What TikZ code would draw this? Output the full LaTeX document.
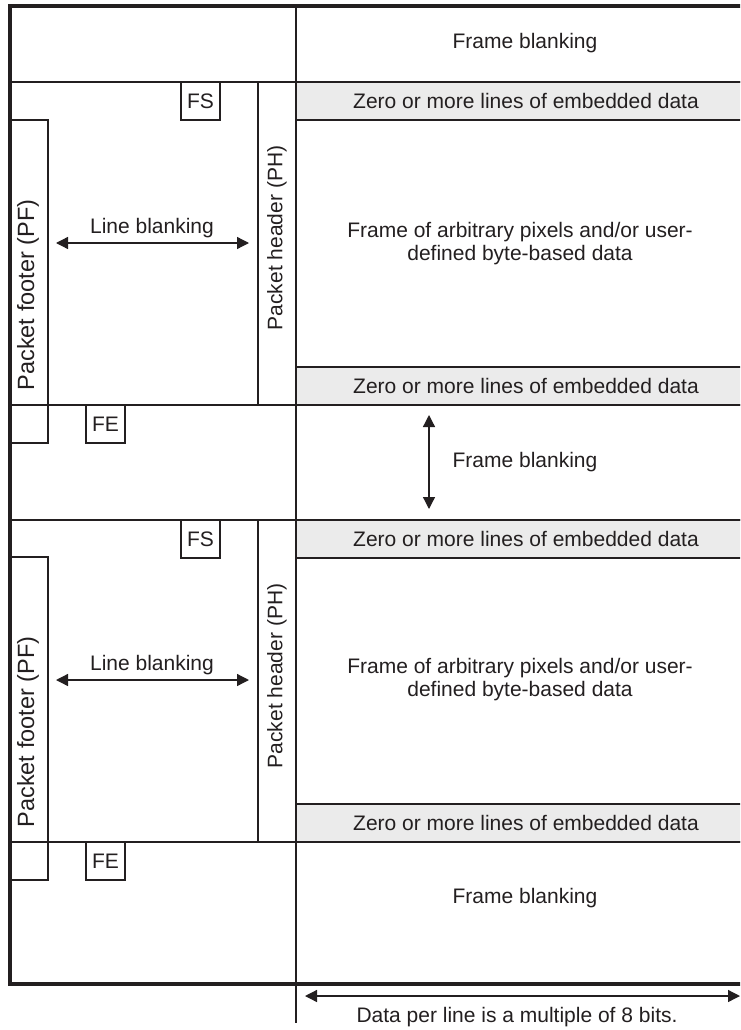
\documentclass[tikz,border=0pt]{standalone}
\usepackage{fontspec}
\setmainfont{Liberation Sans}
\usetikzlibrary{arrows.meta}
\definecolor{ink}{HTML}{231F20}
\definecolor{bandgray}{HTML}{EBEBEB}
\begin{document}
\begin{tikzpicture}[x=1pt,y=-1pt,
  lbl/.style={font=\fontsize{21}{23}\selectfont, text=ink},
  pflbl/.style={font=\fontsize{23.5}{26}\selectfont, text=ink},
  cell/.style={draw=ink, line width=1.3pt, inner sep=0pt, outer sep=0pt, anchor=north west},
  band/.style={cell, fill=bandgray, minimum width=460pt, minimum height=38pt, lbl},
  tag/.style={cell, minimum width=39pt, minimum height=38pt, text=ink, font=\fontsize{21}{24}\selectfont},
  col/.style={cell, minimum width=38pt},
  frameline/.style={draw=ink, line width=3.5pt, line join=miter},
  rule/.style={draw=ink, line width=1.3pt},
  dim/.style={draw=ink, line width=1.3pt, {Triangle[length=12pt,width=12pt]}-{Triangle[length=12pt,width=12pt]}},
]
\useasboundingbox (0,0) rectangle (740,1030);
\clip (0,0) rectangle (740,1030);

% embedded data bands
\node[band] (emb1) at (296,82) {Zero or more lines of embedded data};
\node[band] (emb2) at (296,367) {Zero or more lines of embedded data};
\node[band] (emb3) at (296,520) {Zero or more lines of embedded data};
\node[band] (emb4) at (296,804) {Zero or more lines of embedded data};

% horizontal rules
\draw[rule] (10,82) -- (745,82);
\draw[rule] (10,405) -- (745,405);
\draw[rule] (10,520) -- (745,520);
\draw[rule] (10,842) -- (745,842);
% vertical divider
\draw[rule] (296,6) -- (296,1023);

% packet header columns
\node[col, minimum height=323pt] (ph1) at (258,82) {};
\node[col, minimum height=322pt] (ph2) at (258,520) {};
\node[lbl, rotate=90] (ph1t) at (277,238) {Packet header (PH)};
\node[lbl, rotate=90] (ph2t) at (277,676) {Packet header (PH)};

% packet footer columns
\node[col, minimum height=323pt] (pf1) at (10,120) {};
\node[col, minimum height=323pt] (pf2) at (10,557) {};
\node[pflbl, rotate=90] (pf1t) at (28,295) {Packet footer (PF)};
\node[pflbl, rotate=90] (pf2t) at (28,732) {Packet footer (PF)};

% FS / FE tags
\node[tag] (fs1) at (181,82) {FS};
\node[tag] (fs2) at (181,520) {FS};
\node[tag] (fe1) at (86,405) {FE};
\node[tag] (fe2) at (86,842) {FE};

% outer frame
\draw[frameline] (745,6) -- (10,6) -- (10,984) -- (745,984);

% texts
\node[lbl] (fb1) at (525,43) {Frame blanking};
\node[lbl, align=center] (data1) at (520,244) {Frame of arbitrary pixels and/or user-\\defined byte-based data};
\node[lbl] (fb2) at (525,462) {Frame blanking};
\node[lbl, align=center] (data2) at (520,680) {Frame of arbitrary pixels and/or user-\\defined byte-based data};
\node[lbl] (fb3) at (525,898) {Frame blanking};
\node[lbl] (lb1) at (152,228) {Line blanking};
\node[lbl] (lb2) at (152,665) {Line blanking};
\node[lbl] (dpl) at (517,1017) {Data per line is a multiple of 8 bits.};

% dimension arrows
\coordinate (lb1a) at (56,243); \coordinate (lb1b) at (249,243);
\coordinate (lb2a) at (56,680); \coordinate (lb2b) at (249,680);
\coordinate (fba) at (429,415); \coordinate (fbb) at (429,509);
\coordinate (dpla) at (305,996); \coordinate (dplb) at (740,996);
\draw[dim] (lb1a) -- (lb1b);
\draw[dim] (lb2a) -- (lb2b);
\draw[dim] (fba) -- (fbb);
\draw[dim] (dpla) -- (dplb);
\end{tikzpicture}
\end{document}
